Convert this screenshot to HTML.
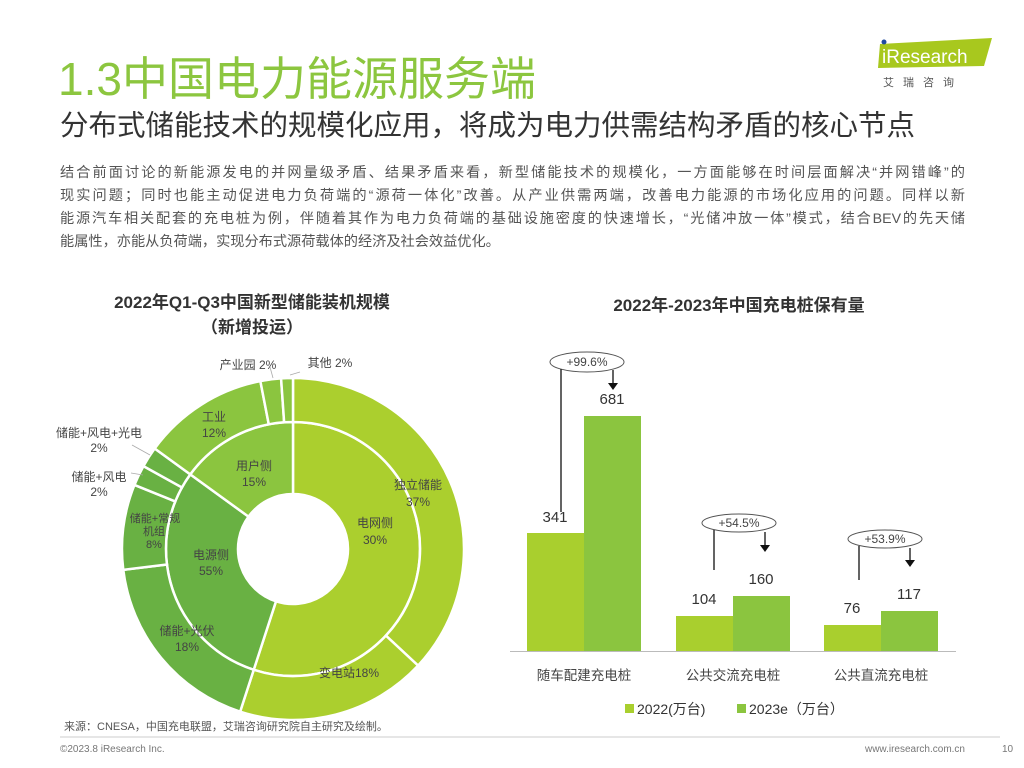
<!DOCTYPE html>
<html><head><meta charset="utf-8">
<style>
body{margin:0;width:1024px;height:768px;background:#fff;position:relative;overflow:hidden;font-family:"Liberation Sans","Noto Sans CJK SC",sans-serif;}
.a{position:absolute;white-space:nowrap;}
.t{left:58px;top:43px;font-size:46px;color:#8cc63f;}
.st{left:60px;top:103px;font-size:28.5px;color:#333;}
.b{left:60px;font-size:14.2px;color:#555;width:905px;text-align:justify;text-align-last:justify;}
.b2{text-align-last:left;}
</style></head><body>
<div class="a t">1.3中国电力能源服务端</div>
<div class="a st">分布式储能技术的规模化应用，将成为电力供需结构矛盾的核心节点</div>
<div class="a b" style="top:162px">结合前面讨论的新能源发电的并网量级矛盾、结果矛盾来看，新型储能技术的规模化，一方面能够在时间层面解决“并网错峰”的</div>
<div class="a b" style="top:185px">现实问题；同时也能主动促进电力负荷端的“源荷一体化”改善。从产业供需两端，改善电力能源的市场化应用的问题。同样以新</div>
<div class="a b" style="top:208px">能源汽车相关配套的充电桩为例，伴随着其作为电力负荷端的基础设施密度的快速增长，“光储冲放一体”模式，结合BEV的先天储</div>
<div class="a b b2" style="top:231px">能属性，亦能从负荷端，实现分布式源荷载体的经济及社会效益优化。</div>

<svg class="a" style="left:0;top:0" width="1024" height="768" font-family="Liberation Sans, Noto Sans CJK SC, sans-serif">
<polygon points="880,44 992,38 984,66 878,68" fill="#a8c81e"/>
<circle cx="884" cy="42" r="2.5" fill="#1f4aa0"/>
<text x="882" y="63" font-size="19" fill="#fff">iResearch</text>
<text x="883" y="86" font-size="11" fill="#555" letter-spacing="9">艾瑞咨询</text>

<text x="252" y="308" font-size="17" font-weight="bold" fill="#333" text-anchor="middle">2022年Q1-Q3中国新型储能装机规模</text>
<text x="252" y="333" font-size="17" font-weight="bold" fill="#333" text-anchor="middle">（新增投运）</text>
<text x="739" y="311" font-size="17" font-weight="bold" fill="#333" text-anchor="middle">2022年-2023年中国充电桩保有量</text>

<g id="donut"></g>
<g font-size="12" fill="#444" text-anchor="middle">
<text x="418" y="489">独立储能</text><text x="418" y="506">37%</text>
<text x="375" y="527">电网侧</text><text x="375" y="544">30%</text>
<text x="349" y="677">变电站18%</text>
<text x="187" y="635">储能+光伏</text><text x="187" y="651">18%</text>
<text x="211" y="559">电源侧</text><text x="211" y="575">55%</text>
<text x="254" y="470">用户侧</text><text x="254" y="486">15%</text>
<text x="214" y="421">工业</text><text x="214" y="437">12%</text>
<text x="155" y="522" font-size="11">储能+常规</text><text x="154" y="535" font-size="11">机组</text><text x="154" y="548" font-size="11">8%</text>
<text x="99" y="481">储能+风电</text><text x="99" y="496">2%</text>
<text x="99" y="437">储能+风电+光电</text><text x="99" y="452">2%</text>
<text x="248" y="369">产业园 2%</text>
<text x="330" y="367">其他  2%</text>
</g>
<g stroke="#aaa" stroke-width="0.8" fill="none">
<line x1="132" y1="445" x2="150" y2="455"/><line x1="131" y1="473" x2="143" y2="475"/>
<line x1="270" y1="367" x2="273" y2="378"/><line x1="290" y1="375" x2="300" y2="372"/>
</g>

<g>
<rect x="527" y="533" width="57" height="118" fill="#a9cf2e"/>
<rect x="584" y="416" width="57" height="235" fill="#8bc53f"/>
<rect x="676" y="616" width="57" height="35" fill="#a9cf2e"/>
<rect x="733" y="596" width="57" height="55" fill="#8bc53f"/>
<rect x="824" y="625" width="57" height="26" fill="#a9cf2e"/>
<rect x="881" y="611" width="57" height="40" fill="#8bc53f"/>
<line x1="510" y1="651.5" x2="956" y2="651.5" stroke="#bbb"/>
</g>
<g font-size="15" fill="#333" text-anchor="middle">
<text x="555" y="522">341</text><text x="612" y="404">681</text>
<text x="704" y="604">104</text><text x="761" y="584">160</text>
<text x="852" y="613">76</text><text x="909" y="599">117</text>
</g>
<g font-size="13.5" fill="#444" text-anchor="middle">
<text x="584" y="680">随车配建充电桩</text><text x="733" y="680">公共交流充电桩</text><text x="881" y="680">公共直流充电桩</text>
</g>
<rect x="625" y="704" width="9" height="9" fill="#a9cf2e"/><text x="637" y="714" font-size="14" fill="#333">2022(万台)</text>
<rect x="737" y="704" width="9" height="9" fill="#8bc53f"/><text x="749" y="714" font-size="14" fill="#333">2023e（万台）</text>
<g stroke="#222" stroke-width="1.4" fill="none">
<ellipse cx="587" cy="362" rx="37" ry="10" stroke="#555" stroke-width="1"/>
<line x1="561" y1="369" x2="561" y2="512"/><line x1="613" y1="370" x2="613" y2="384"/>
<ellipse cx="739" cy="523" rx="37" ry="9" stroke="#555" stroke-width="1"/>
<line x1="714" y1="530" x2="714" y2="570"/><line x1="765" y1="532" x2="765" y2="546"/>
<ellipse cx="885" cy="539" rx="37" ry="9" stroke="#555" stroke-width="1"/>
<line x1="859" y1="546" x2="859" y2="580"/><line x1="910" y1="548" x2="910" y2="561"/>
</g>
<g fill="#111">
<polygon points="608,383 618,383 613,390"/><polygon points="760,545 770,545 765,552"/><polygon points="905,560 915,560 910,567"/>
</g>
<g font-size="12" fill="#444" text-anchor="middle">
<text x="587" y="366">+99.6%</text><text x="739" y="527">+54.5%</text><text x="885" y="543">+53.9%</text>
</g>

<text x="64" y="730" font-size="11" fill="#555">来源：CNESA，中国充电联盟，艾瑞咨询研究院自主研究及绘制。</text>
<line x1="60" y1="737" x2="1000" y2="737" stroke="#ccc"/>
<text x="60" y="752" font-size="10" fill="#777">©2023.8 iResearch Inc.</text>
<text x="965" y="752" font-size="10" fill="#777" text-anchor="end">www.iresearch.com.cn</text>
<text x="1002" y="752" font-size="10" fill="#777">10</text>
</svg>
<script>
(function(){
var cx=293,cy=549,g=document.getElementById('donut'),s='';
function arc(r0,r1,a0,a1,c){
 function p(r,a){a=(a-90)*Math.PI/180;return [cx+r*Math.cos(a),cy+r*Math.sin(a)];}
 var L=(a1-a0)>180?1:0,A=p(r1,a0),B=p(r1,a1),C=p(r0,a1),D=p(r0,a0);
 return '<path d="M'+A+'A'+r1+','+r1+' 0 '+L+' 1 '+B+'L'+C+'A'+r0+','+r0+' 0 '+L+' 0 '+D+'Z" fill="'+c+'" stroke="#fff" stroke-width="2.5"/>';
}
var L='#abcf2e',M='#8bc53f',D='#69b143';
var inner=[[0,198,L],[198,306,D],[306,360,M]];
var outer=[[0,133,L],[133,198,L],[198,263,D],[263,292,D],[292,299,D],[299,306,D],[306,349,M],[349,356,M],[356,360,M]];
inner.forEach(function(x){s+=arc(55,127,x[0],x[1],x[2]);});
outer.forEach(function(x){s+=arc(127,171,x[0],x[1],x[2]);});
g.innerHTML=s;
})();
</script>
</body></html>
